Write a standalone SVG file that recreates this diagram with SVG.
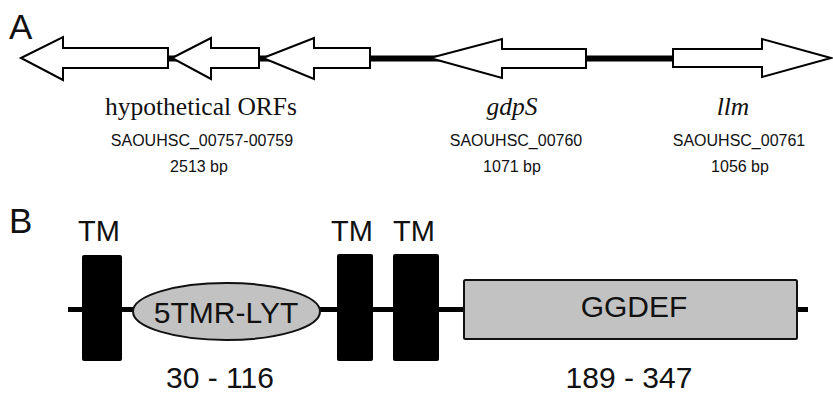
<svg xmlns="http://www.w3.org/2000/svg" width="833" height="393" viewBox="0 0 833 393">
<style>
.gene{fill:#fff;stroke:#000;stroke-width:2;stroke-linejoin:miter}
.serif{font-family:"Liberation Serif","Times New Roman",serif;font-style:italic;font-size:25.5px;fill:#111;text-anchor:middle}
.serifn{font-family:"Liberation Serif","Times New Roman",serif;font-size:25.5px;fill:#111;text-anchor:middle}
.small{font-family:"Liberation Sans",Arial,sans-serif;font-size:16px;fill:#111;text-anchor:middle}
.big{font-family:"Liberation Sans",Arial,sans-serif;font-size:30px;fill:#111;text-anchor:middle}
.tm{font-family:"Liberation Sans",Arial,sans-serif;font-size:29px;fill:#111;text-anchor:middle}
.panel{font-family:"Liberation Sans",Arial,sans-serif;font-size:35px;fill:#111}
.tmbox{fill:#000}
.dom{fill:#c2c2c2;stroke:#111;stroke-width:2}
</style>
<rect width="833" height="393" fill="#fff"/>
<text class="panel" x="9" y="39">A</text>
<text class="panel" x="9" y="233">B</text>
<g id="connectors">
<line x1="165" y1="58.5" x2="676" y2="58.5" stroke="#000" stroke-width="6"/>
<line x1="68" y1="309.5" x2="808" y2="309.5" stroke="#000" stroke-width="5"/>
</g>
<g id="orf757">
<polygon class="gene" points="21,58 63,37 63,48 168,48 168,68 63,68 63,80"/>
</g>
<g id="orf758">
<polygon class="gene" points="172,58 211,38 211,48 259,48 259,68 211,68 211,79"/>
</g>
<g id="orf759">
<polygon class="gene" points="263,58 314,38 314,48 370,48 370,68 314,68 314,79"/>
</g>
<g id="gdpS">
<polygon class="gene" points="430,58 502,39 502,49 586,49 586,68 502,68 502,78"/>
</g>
<g id="llm">
<polygon class="gene" points="831,58 762,39 762,49 673,49 673,67 762,67 762,77"/>
</g>
<g id="labelsA">
<text class="serifn" x="201" y="115">hypothetical ORFs</text>
<text class="small" x="202" y="146">SAOUHSC_00757-00759</text>
<text class="small" x="199" y="172">2513 bp</text>
<text class="serif" x="512" y="115">gdpS</text>
<text class="small" x="516" y="146">SAOUHSC_00760</text>
<text class="small" x="512" y="172">1071 bp</text>
<text class="serif" x="733" y="115">llm</text>
<text class="small" x="739" y="146">SAOUHSC_00761</text>
<text class="small" x="740" y="172">1056 bp</text>
</g>
<g id="tm1">
<rect class="tmbox" x="82" y="255" width="40" height="106" rx="2"/>
<text class="tm" x="99" y="241">TM</text>
</g>
<g id="lyt">
<ellipse class="dom" cx="226.5" cy="311.5" rx="93.5" ry="28.5"/>
<text class="big" x="226" y="323">5TMR-LYT</text>
<text class="big" x="220" y="388">30 - 116</text>
</g>
<g id="tm2">
<rect class="tmbox" x="337" y="254" width="36" height="107" rx="2"/>
<text class="tm" x="352" y="241">TM</text>
</g>
<g id="tm3">
<rect class="tmbox" x="393" y="254" width="46" height="107" rx="2"/>
<text class="tm" x="414" y="241">TM</text>
</g>
<g id="ggdef">
<rect class="dom" x="464" y="280" width="333" height="59" rx="1.5"/>
<text class="big" x="634" y="317">GGDEF</text>
<text class="big" x="629" y="388">189 - 347</text>
</g>
</svg>
